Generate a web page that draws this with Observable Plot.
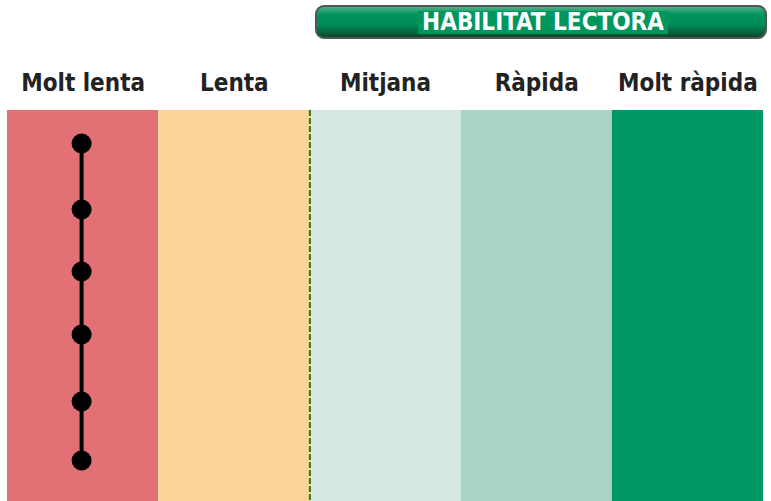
<!DOCTYPE html>
<html>
<head>
<meta charset="utf-8">
<script src="https://cdn.jsdelivr.net/npm/d3@7"></script>
<script src="https://cdn.jsdelivr.net/npm/@observablehq/plot@0.6"></script>
<style>
  html, body { margin: 0; padding: 0; background: #fff; }
  #wrap { position: relative; width: 771px; height: 501px; }
  #badge {
    position: absolute; left: 315px; top: 5px; width: 448px; height: 30px;
    border-radius: 9px; border: 2px solid #555;
    background: linear-gradient(to bottom, #4fb084 0%, #00955f 25%, #008a57 60%, #0b4a2e 100%);
    box-sizing: content-box;
    display: flex; align-items: center; justify-content: center;
  }
  #badge span {
    background: #00975f; color: #fff; font-family: "DejaVu Sans Condensed", "Liberation Sans", sans-serif;
    font-weight: bold; font-size: 24px; line-height: 23px; padding: 0 4px; margin-left: 4px;
  }
  #chart { position: absolute; left: 0; top: 0; }
</style>
</head>
<body>
<div id="wrap">
  <div id="chart"></div>
  <div id="badge"><span>HABILITAT LECTORA</span></div>
</div>
<script>
const title = "HABILITAT LECTORA";
const categories = ["Molt lenta", "Lenta", "Mitjana", "Ràpida", "Molt ràpida"];
const bandColors = ["#e17175", "#fad597", "#d5e9e2", "#a9d5c6", "#009964"];
const threshold = 2; // boundary between "Lenta" and "Mitjana"
const pointLevel = [0.49, 0.49, 0.49, 0.49, 0.49, 0.49]; // all in "Molt lenta"
const pointRows = [33, 99, 161, 224, 291, 350];

const bands = categories.map((c, i) => ({cat: c, x1: i, x2: i + 1, color: bandColors[i], mid: i + 0.5}));
const points = pointRows.map((r, i) => ({x: pointLevel[i], y: r}));

const chart = Plot.plot({
  width: 771,
  height: 501,
  marginTop: 110,
  marginBottom: 0,
  marginLeft: 7,
  marginRight: 8,
  x: {domain: [0, 5], axis: null},
  y: {domain: [0, 391], reverse: true, axis: null},
  marks: [
    Plot.rectY(bands, {x1: "x1", x2: "x2", y1: 0, y2: 391, fill: "color"}),
    Plot.ruleX([threshold], {stroke: "#2f7a12", strokeWidth: 2, strokeDasharray: "6,2"}),
    Plot.text(bands, {x: "mid", text: "cat", frameAnchor: "top", dy: -37, fontSize: 24, fontWeight: "bold", fill: "#222", fontFamily: "\"DejaVu Sans Condensed\", \"Liberation Sans\", sans-serif"}),
    Plot.line(points, {x: "x", y: "y", stroke: "#000", strokeWidth: 4}),
    Plot.dot(points, {x: "x", y: "y", r: 10, fill: "#000"})
  ]
});
document.getElementById("chart").appendChild(chart);
</script>
</body>
</html>
